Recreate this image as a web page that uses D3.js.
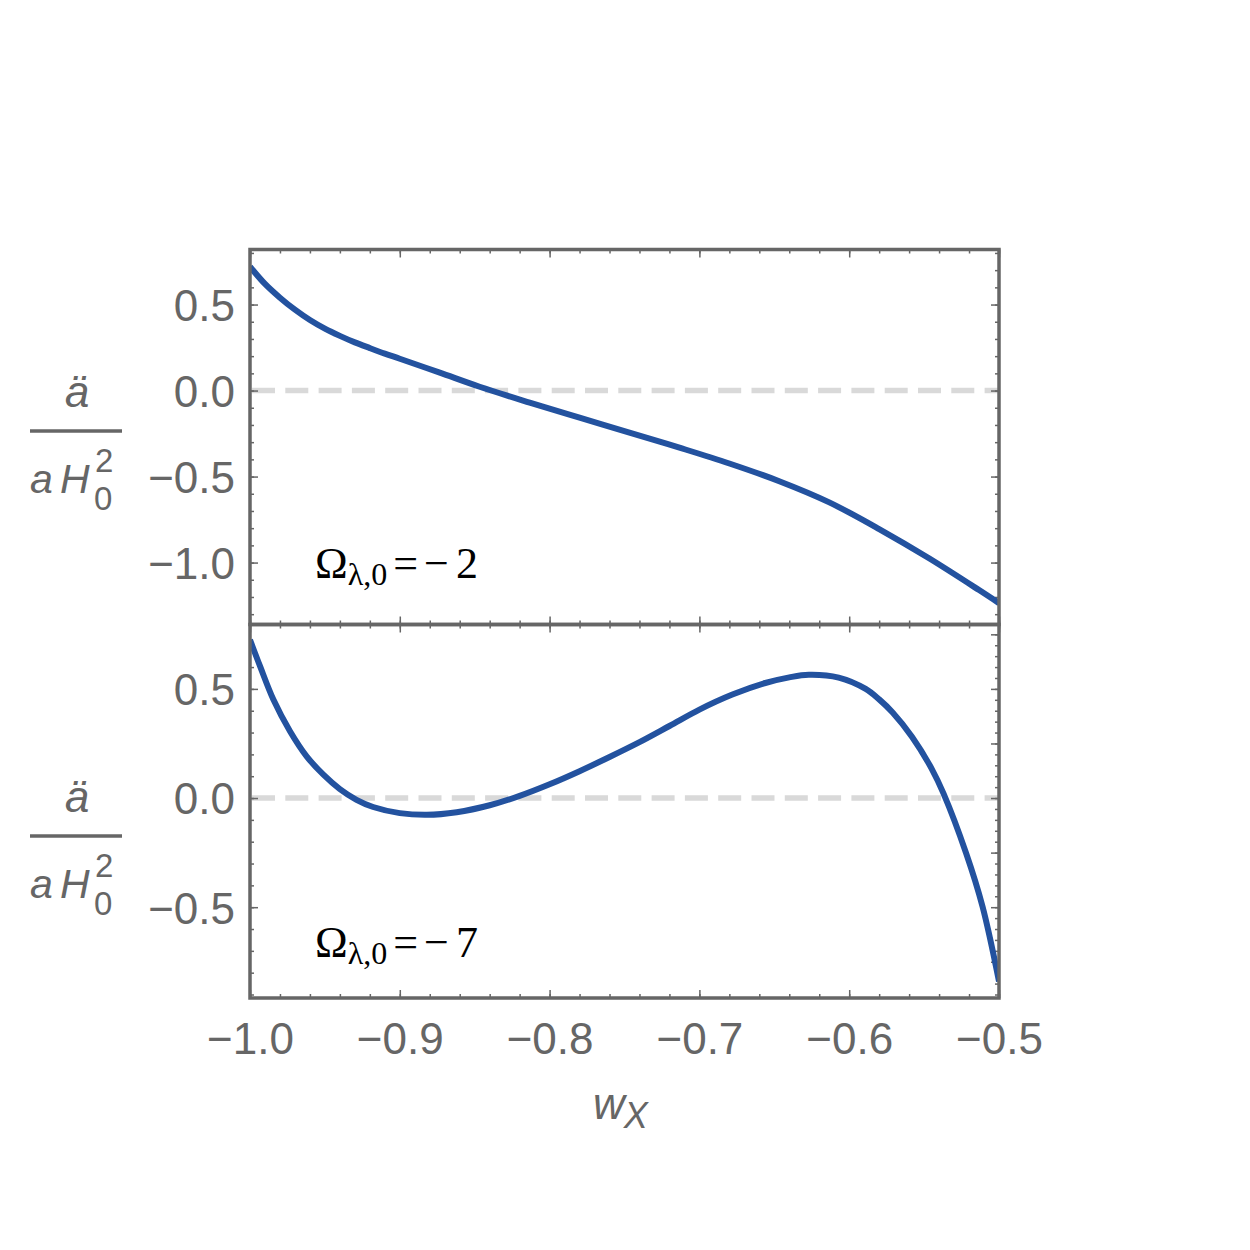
<!DOCTYPE html>
<html>
<head>
<meta charset="utf-8">
<script src="https://cdn.jsdelivr.net/npm/d3@7"></script>
<style>
  body { margin: 0; background: #fff; }
  .tick text { font-family: "Liberation Sans", Arial, sans-serif; font-size: 44px; fill: #666; }
  .tick line { stroke: #666; stroke-width: 1.5; }
</style>
</head>
<body>
<svg width="1250" height="1250"></svg>
<script>
const svg = d3.select("svg"),
  width = +svg.attr("width"),
  height = +svg.attr("height");

// Data
const wTop = [-1.0, -0.99, -0.98, -0.97, -0.96, -0.95, -0.94, -0.93, -0.92, -0.91, -0.9, -0.8733,
  -0.8467, -0.8133, -0.78, -0.7467, -0.7133, -0.68, -0.6467, -0.6133, -0.58, -0.5467, -0.5133, -0.5];
const accTop = [0.72, 0.62, 0.54, 0.47, 0.41, 0.36, 0.318, 0.28, 0.247, 0.215, 0.185, 0.104,
  0.022, -0.07, -0.158, -0.244, -0.332, -0.424, -0.527, -0.65, -0.805, -0.975, -1.16, -1.236];

const wBot = [-1.0, -0.9933, -0.9844, -0.9733, -0.9622, -0.951, -0.94, -0.9289, -0.9178, -0.9, -0.882,
  -0.862, -0.84, -0.82, -0.8, -0.78, -0.76, -0.74, -0.72, -0.7, -0.678, -0.656, -0.64, -0.627,
  -0.607, -0.589, -0.58, -0.571, -0.558, -0.545, -0.537, -0.522, -0.511, -0.5];
const accBot = [0.725, 0.604, 0.451, 0.306, 0.191, 0.107, 0.041, -0.008, -0.041, -0.069, -0.077,
  -0.065, -0.033, 0.01, 0.063, 0.123, 0.188, 0.256, 0.33, 0.405, 0.474, 0.527, 0.553, 0.565,
  0.552, 0.50, 0.452, 0.392, 0.28, 0.135, 0.02, -0.252, -0.497, -0.84];

const xTicks = [-1.0, -0.9, -0.8, -0.7, -0.6, -0.5];
const yTicksTop = [-1.0, -0.5, 0.0, 0.5];
const yTicksBot = [-0.5, 0.0, 0.5];
const lambdaTop = "2", lambdaBot = "7";

// Scales
const x = d3.scaleLinear().domain([-1.0, -0.5]).range([250, 999]);
const yTop = d3.scaleLinear().domain([-1.36, 0.82]).range([624.5, 249.5]);
const yBot = d3.scaleLinear().domain([-0.916, 0.795]).range([998, 624.5]);

const fmt = d3.format(".1f");
const minorX = d3.range(-1.0, -0.499, 0.02);

function panel(id, y, w, acc, yTicks, minorStepL, majorR, minorStepR, showX, label, labelY, fracY) {
  const [y0, y1] = y.range();
  const g = svg.append("g").attr("class", "panel-" + id);
  const [d0, d1] = y.domain();
  const minorL = d3.range(Math.ceil(d0 / minorStepL) * minorStepL, d1, minorStepL);
  const minorR = d3.range(Math.ceil(d0 / minorStepR) * minorStepR, d1, minorStepR);
  const majorRv = d3.range(Math.ceil(d0 / majorR) * majorR, d1, majorR);

  g.append("clipPath").attr("id", "clip-" + id)
    .append("rect").attr("x", 250).attr("y", y1).attr("width", 749).attr("height", y0 - y1);

  // zero line
  g.append("line")
    .attr("x1", x(-1.0) + 2).attr("x2", x(-0.5))
    .attr("y1", y(0)).attr("y2", y(0))
    .attr("stroke", "#d9d9d9").attr("stroke-width", 5.5)
    .attr("stroke-dasharray", "23,10.3");

  // left axis (major + minor)
  g.append("g").attr("transform", "translate(250,0)")
    .call(d3.axisLeft(y).tickValues(minorL).tickSize(-4).tickFormat(""));
  g.append("g").attr("class", "yax").attr("transform", "translate(250,0)")
    .call(d3.axisLeft(y).tickValues(yTicks).tickSizeInner(-8).tickSizeOuter(0).tickPadding(15).tickFormat(fmt));
  // right axis
  g.append("g").attr("transform", "translate(999,0)")
    .call(d3.axisRight(y).tickValues(minorR).tickSize(-4).tickFormat(""));
  g.append("g").attr("transform", "translate(999,0)")
    .call(d3.axisRight(y).tickValues(majorRv).tickSize(-8).tickFormat(""));
  // bottom & top
  g.append("g").attr("transform", `translate(0,${y0})`)
    .call(d3.axisBottom(x).tickValues(minorX).tickSize(-4).tickFormat(""));
  g.append("g").attr("class", "xax").attr("transform", `translate(0,${y0})`)
    .call(d3.axisBottom(x).tickValues(xTicks).tickSizeInner(-8).tickSizeOuter(0)
      .tickFormat(showX ? fmt : ""));
  g.append("g").attr("transform", `translate(0,${y1})`)
    .call(d3.axisTop(x).tickValues(minorX).tickSize(-4).tickFormat(""));
  g.append("g").attr("transform", `translate(0,${y1})`)
    .call(d3.axisTop(x).tickValues(xTicks).tickSize(-8).tickFormat(""));
  g.selectAll(".domain").remove();
  g.selectAll(".yax .tick text").attr("dy", "0.36em");
  g.selectAll(".xax .tick text").attr("dy", null).attr("y", 56);

  // curve
  g.append("path")
    .datum(d3.zip(w, acc))
    .attr("clip-path", `url(#clip-${id})`)
    .attr("fill", "none")
    .attr("stroke", "#23529f")
    .attr("stroke-width", 6)
    .attr("stroke-linejoin", "round")
    .attr("d", d3.line().x(d => x(d[0])).y(d => y(d[1])).curve(d3.curveCatmullRom.alpha(0.5)));

  // frame
  g.append("rect")
    .attr("x", 250).attr("y", y1).attr("width", 749).attr("height", y0 - y1)
    .attr("fill", "none").attr("stroke", "#666").attr("stroke-width", 3.5);

  // Omega label
  const t = g.append("text")
    .attr("x", 315).attr("y", labelY)
    .attr("font-family", "Liberation Serif, Times New Roman, serif")
    .attr("font-size", 44).attr("fill", "#000");
  t.append("tspan").text("Ω");
  t.append("tspan").attr("font-size", 32).attr("dy", 7).text("λ,0");
  t.append("tspan").attr("dy", -7).attr("dx", 6).text("=");
  t.append("tspan").attr("dx", 6).text("−");
  t.append("tspan").attr("dx", 7).text(label);

  // y label fraction
  const fl = g.append("g").attr("fill", "#666")
    .attr("font-family", "Liberation Sans, Arial, sans-serif");
  fl.append("text").attr("x", 77).attr("y", fracY - 24)
    .attr("text-anchor", "middle").attr("font-style", "italic").attr("font-size", 44).text("ä");
  fl.append("line").attr("x1", 30).attr("x2", 122).attr("y1", fracY).attr("y2", fracY)
    .attr("stroke", "#666").attr("stroke-width", 3.5);
  const den = fl.append("text").attr("font-size", 41);
  den.append("tspan").attr("x", 30).attr("y", fracY + 62).attr("font-style", "italic").text("a");
  den.append("tspan").attr("x", 60).attr("y", fracY + 62).attr("font-style", "italic").text("H");
  den.append("tspan").attr("x", 95).attr("y", fracY + 41).attr("font-size", 33).text("2");
  den.append("tspan").attr("x", 94).attr("y", fracY + 79).attr("font-size", 33).text("0");
}

panel("top", yTop, wTop, accTop, yTicksTop, 0.1, 0.5, 0.1, false, lambdaTop, 578, 431);
panel("bot", yBot, wBot, accBot, yTicksBot, 0.1, 0.25, 0.05, true, lambdaBot, 957, 836);

// x axis title
const xt = svg.append("text")
  .attr("x", 593).attr("y", 1119)
  .attr("font-family", "Liberation Sans, Arial, sans-serif")
  .attr("font-style", "italic").attr("fill", "#666").attr("font-size", 44);
xt.append("tspan").text("w");
xt.append("tspan").attr("font-size", 36).attr("dy", 9).attr("dx", -1).text("X");
</script>
</body>
</html>
